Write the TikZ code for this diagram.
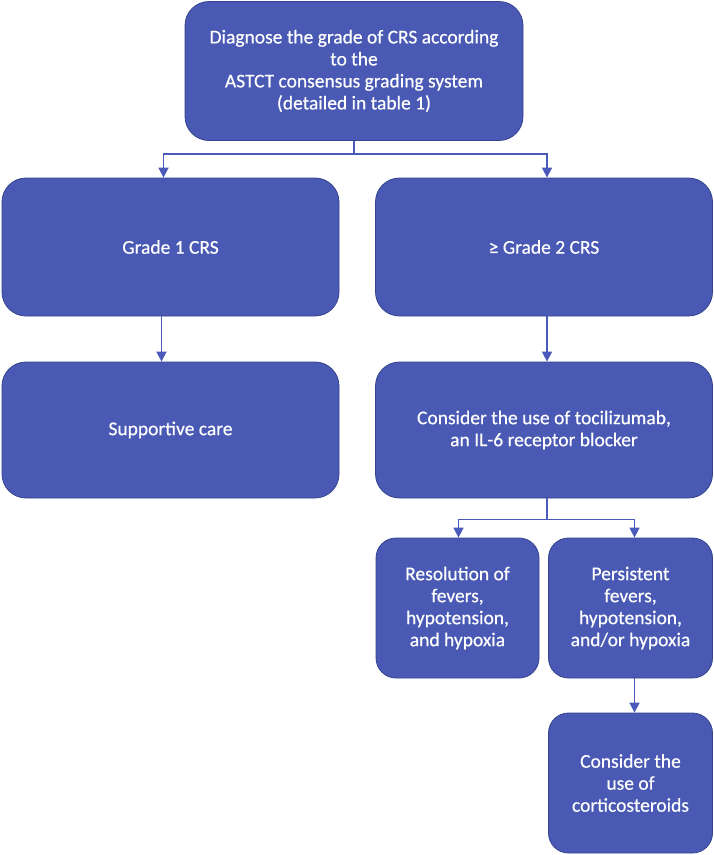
\documentclass[tikz,border=0pt]{standalone}
\usepackage{fontspec}
\setmainfont{Carlito}
\newfontface\boxfont{Carlito}[FakeBold=0.4]
\usetikzlibrary{arrows.meta}
\definecolor{boxfill}{HTML}{4A5AB4}
\definecolor{boxline}{HTML}{34438F}
\definecolor{conn}{HTML}{4A5AB8}
\tikzset{
  box/.style={draw=boxline, line width=0.8pt, fill=boxfill, rounded corners=24pt,
    text=white, align=center, inner sep=2pt,
    font=\boxfont\fontsize{19.5}{22}\selectfont},
  sbox/.style={box, rounded corners=20pt},
  arr/.style={draw=conn, line width=1.6pt, -{Triangle[width=10pt,length=10pt]}},
  ln/.style={draw=conn, line width=1.6pt}
}
\begin{document}
\begin{tikzpicture}[x=1pt,y=-1pt]
\useasboundingbox (0,0) rectangle (714,855);
\node[box, minimum width=338pt, minimum height=139pt] (top) at (354,71)
  {Diagnose the grade of CRS according\\to the\\ASTCT consensus grading system\\(detailed in table 1)};
\node[box, minimum width=337pt, minimum height=138pt] (g1) at (170.5,247) {Grade 1 CRS};
\node[box, minimum width=337pt, minimum height=138pt] (g2) at (544,247) {≥ Grade 2 CRS};
\node[box, minimum width=337pt, minimum height=136pt] (sup) at (170.5,430) {Supportive care};
\node[box, minimum width=337pt, minimum height=136pt] (toc) at (544,430)
  {Consider the use of tocilizumab,\\an IL-6 receptor blocker};
\node[sbox, minimum width=163pt, minimum height=140pt] (res) at (457.5,608)
  {Resolution of\\fevers,\\hypotension,\\and hypoxia};
\node[sbox, minimum width=164pt, minimum height=140pt] (per) at (630.5,608)
  {Persistent\\fevers,\\hypotension,\\and/or hypoxia};
\node[sbox, minimum width=164pt, minimum height=140pt] (cor) at (630.5,783)
  {Consider the\\use of\\corticosteroids};
% connectors
\draw[ln] (top.south) -- ++(0,13) coordinate (j1);
\draw[arr] (j1) -| ([xshift=-7pt]g1.north);
\draw[arr] (j1) -| ([xshift=3pt]g2.north);
\draw[arr] ([xshift=-9pt]g1.south) -- ([xshift=-9pt]sup.north);
\draw[arr] ([xshift=3pt]g2.south) -- ([xshift=3pt]toc.north);
\draw[ln] ([xshift=3pt]toc.south) -- ++(0,21) coordinate (j2);
\draw[arr] (j2) -| ([xshift=1pt]res.north);
\draw[arr] (j2) -| ([xshift=4pt]per.north);
\draw[arr] ([xshift=4pt]per.south) -- ([xshift=4pt]cor.north);
\end{tikzpicture}
\end{document}
